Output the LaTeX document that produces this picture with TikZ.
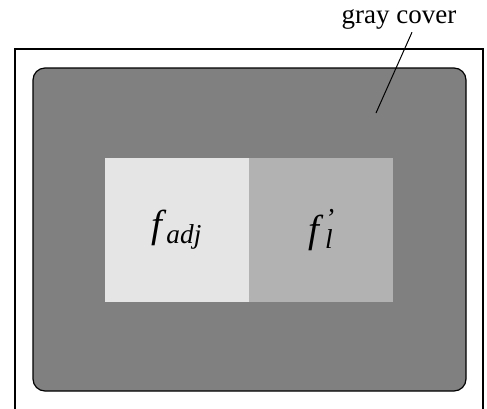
\documentclass[tikz,border=0pt]{standalone}
\usepackage{fontspec}
\setmainfont{Liberation Serif}
\usetikzlibrary{positioning}
\begin{document}
\begin{tikzpicture}[x=0.5pt,y=-0.5pt,
  cover/.style={draw=black,line width=0.6pt,rounded corners=6pt,fill=black!50,
                minimum width=216.5pt,minimum height=161.5pt},
  part/.style={inner sep=0pt,minimum width=72pt,minimum height=72pt,
               font=\fontsize{19.5}{22}\selectfont\itshape},
  lbl/.style={font=\fontsize{13.5}{16}\selectfont,inner sep=0pt}]
\useasboundingbox (0,0) rectangle (487,408);

% frame, open at the bottom
\draw[line width=0.6pt] (15,412) |- (483,49) -- (483,412);

\node[cover] (cover) at (249.5,229.5) {};
\node[part,fill=black!10] (adj) at (177,230) {f\kern2pt\textsubscript{adj}};
\node[part,fill=black!30,right=-0.4pt of adj] (fl)
  {f\kern3pt\rlap{\textsuperscript{'}}\textsubscript{l}};

\node[lbl,anchor=base] (label) at (399,23) {gray cover};
\coordinate (tip) at (376,113);
\draw[line width=0.5pt] (tip) -- ([shift={(13,3)}]label.south);
\end{tikzpicture}
\end{document}
